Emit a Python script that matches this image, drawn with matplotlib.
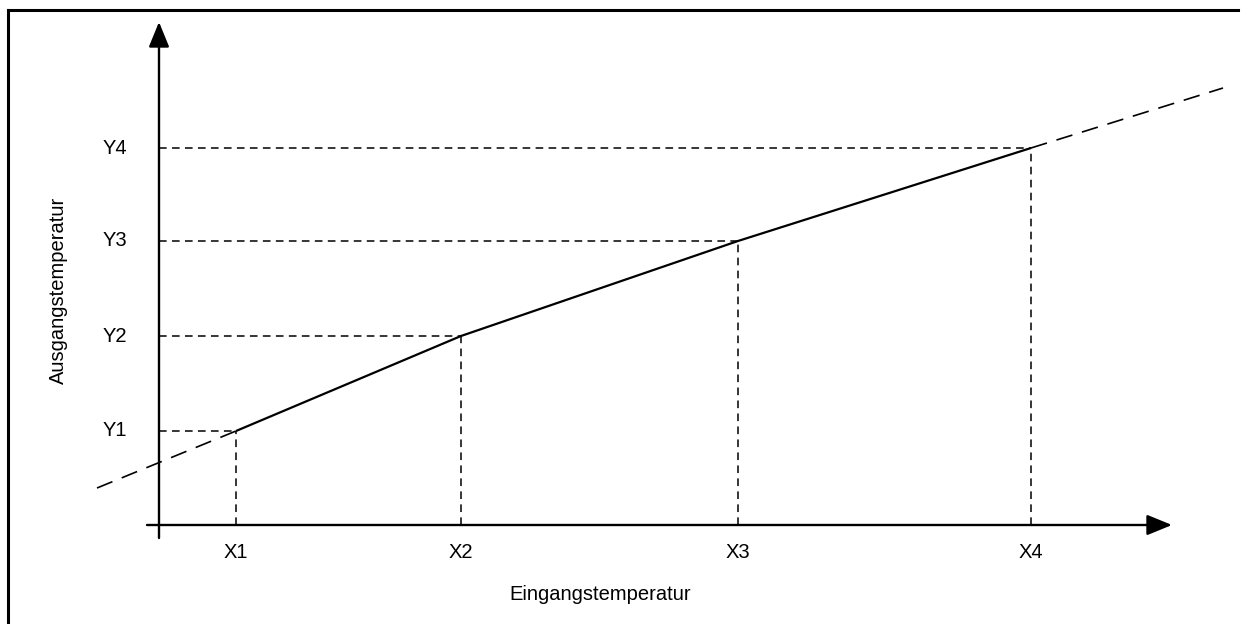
import matplotlib
matplotlib.use("Agg")
import matplotlib.pyplot as plt
from matplotlib.lines import Line2D

plt.rcParams['font.family'] = ['Liberation Sans', 'DejaVu Sans']

# Data (chart units, origin at the axes crossing)
x_labels = ["X1", "X2", "X3", "X4"]
y_labels = ["Y1", "Y2", "Y3", "Y4"]
x_vals = [77, 302, 579, 872]
y_vals = [94, 189, 284, 377]
ext_left = (-62, 37)     # start of dashed extension on the left
ext_right = (1064, 437)  # end of dashed extension on the right
x_axis_range = (-12, 1008)
y_axis_range = (-13, 503)
x_title = "Eingangstemperatur"
y_title = "Ausgangstemperatur"

W, H = 1247, 624
fig = plt.figure(figsize=(W / 100, H / 100), dpi=100)
ax = fig.add_axes([0, 0, 1, 1])
ax.set_xlim(-159, W - 159)
ax.set_ylim(525 - H, 525)
ax.axis('off')

# frame (top and left only)
fig.add_artist(Line2D([8 / W, 1238 / W], [1 - 10 / H, 1 - 10 / H], color='black', lw=2.2,
                      transform=fig.transFigure, solid_capstyle='projecting'))
fig.add_artist(Line2D([8 / W, 8 / W], [1 - 10 / H, 0], color='black', lw=2.2,
                      transform=fig.transFigure, solid_capstyle='projecting'))

# axes with arrows
arrow_style = '-|>,head_length=1.1,head_width=0.45'
ax.annotate("", xy=(x_axis_range[1] + 5, 0), xytext=(x_axis_range[0], 0),
            arrowprops=dict(arrowstyle=arrow_style, color='black', lw=1.7,
                            shrinkA=0, shrinkB=0, mutation_scale=14))
ax.annotate("", xy=(0, y_axis_range[1]), xytext=(0, y_axis_range[0]),
            arrowprops=dict(arrowstyle=arrow_style, color='black', lw=1.7,
                            shrinkA=0, shrinkB=0, mutation_scale=14))

# guide lines
for xv, yv in zip(x_vals, y_vals):
    ax.plot([0, xv], [yv, yv], color='black', lw=1.1, linestyle=(0, (5, 3.5)))
    ax.plot([xv, xv], [0, yv], color='black', lw=1.1, linestyle=(0, (5, 3.5)))

# main line
ax.plot(x_vals, y_vals, color='black', lw=1.6, solid_capstyle='butt')
# dashed extensions
ax.plot([ext_left[0], x_vals[0]], [ext_left[1], y_vals[0]], color='black', lw=1.2,
        linestyle=(0, (10, 6)))
ax.plot([x_vals[-1], ext_right[0]], [y_vals[-1], ext_right[1]], color='black', lw=1.2,
        linestyle=(0, (10, 6)))

# labels
for xv, lab in zip(x_vals, x_labels):
    ax.text(xv, -28, lab, ha='center', va='center', fontsize=14.5)
for yv, lab in zip(y_vals, y_labels):
    ax.text(-44, yv, lab, ha='center', va='center', fontsize=14.5)

ax.text(441, -70, x_title, ha='center', va='center', fontsize=14.5)
ax.text(-101, 235, y_title, ha='center', va='center', fontsize=14.5, rotation=90)

fig.savefig("out.png", dpi=100)
